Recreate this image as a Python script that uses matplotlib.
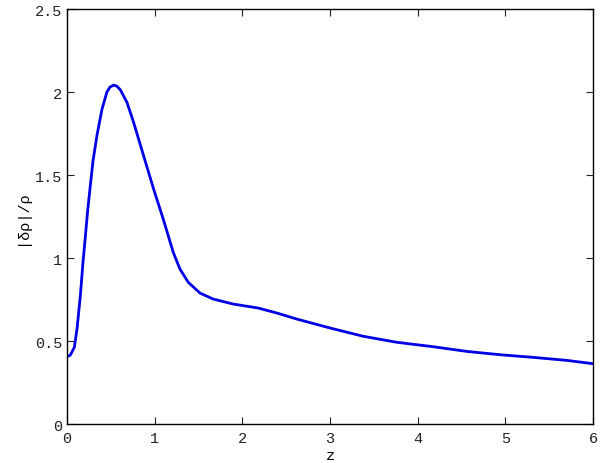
import matplotlib.pyplot as plt

# values
z = [0.0, 0.02, 0.038, 0.083, 0.114, 0.152, 0.182, 0.209, 0.236, 0.258,
     0.296, 0.342, 0.399, 0.456, 0.49, 0.532, 0.57, 0.608, 0.684, 0.76,
     0.874, 0.988, 1.098, 1.155, 1.212, 1.288, 1.383, 1.517, 1.668, 1.896,
     2.181, 2.4, 2.619, 2.999, 3.379, 3.76, 4.18, 4.56, 4.94, 5.32, 5.70, 6.0]
drho = [0.414, 0.412, 0.418, 0.464, 0.575, 0.775, 0.976, 1.13, 1.29, 1.40,
        1.585, 1.742, 1.898, 2.003, 2.031, 2.043, 2.036, 2.015, 1.939, 1.818,
        1.617, 1.417, 1.236, 1.136, 1.036, 0.936, 0.856, 0.791, 0.755, 0.725,
        0.701, 0.67, 0.635, 0.581, 0.531, 0.495, 0.468, 0.44, 0.42, 0.404,
        0.386, 0.366]

xticks = [0, 1, 2, 3, 4, 5, 6]
yticks = [0, 0.5, 1, 1.5, 2, 2.5]
yticklabels = ['0', '0.5', '1', '1.5', '2', '2.5']

plt.rcParams['font.family'] = ['Liberation Mono', 'DejaVu Sans']

fig = plt.figure(figsize=(6, 4.64), dpi=100)
ax = fig.add_axes([0.1117, 0.083, 0.8766, 0.895])

ax.plot(z, drho, color='#0000e6', lw=2, solid_joinstyle='round')

ax.set_xlim(0, 6)
ax.set_ylim(0, 2.5)
ax.set_xticks(xticks)
ax.set_yticks(yticks)
ax.set_yticklabels(yticklabels)
ax.tick_params(direction='in', top=True, right=True, length=5, width=0.8,
               labelsize=11, colors='#222222')
ax.tick_params(axis='x', pad=5)
for s in ax.spines.values():
    s.set_linewidth(1.0)
ax.set_xlabel('z', fontsize=11, labelpad=2)
ax.set_ylabel('|δρ|/ρ', fontsize=11, labelpad=4)

plt.savefig('out.png')
